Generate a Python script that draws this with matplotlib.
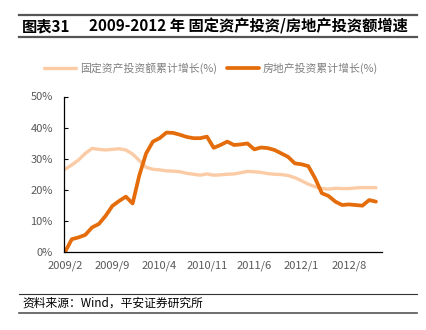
import matplotlib
matplotlib.use("Agg")
import matplotlib.pyplot as plt
from matplotlib.lines import Line2D

plt.rcParams['font.family'] = ['Noto Sans CJK SC', 'DejaVu Sans']

# Monthly data, 2009/2 .. 2012/12
months = []
y, m = 2009, 2
while (y, m) <= (2012, 12):
    months.append(f"{y}/{m}")
    m += 1
    if m > 12:
        m = 1
        y += 1

fixed_asset = [26.6, 28.0, 29.6, 31.7, 33.3, 33.0, 32.8, 33.0, 33.2, 32.8,
               31.5, 29.4, 27.2, 26.6, 26.4, 26.1, 26.0, 25.8, 25.3, 25.0,
               24.7, 25.1, 24.7, 24.8, 25.0, 25.1, 25.5, 25.9, 25.8, 25.6,
               25.2, 25.0, 24.9, 24.6, 23.9, 22.9, 21.8, 21.0, 20.4, 20.2,
               20.5, 20.4, 20.4, 20.6, 20.7, 20.7, 20.7]
real_estate = [0.0, 4.1, 4.7, 5.5, 7.9, 9.0, 11.6, 14.8, 16.4, 17.8,
               15.6, 24.7, 31.7, 35.5, 36.6, 38.4, 38.3, 37.7, 37.0, 36.6,
               36.6, 37.1, 33.5, 34.4, 35.5, 34.4, 34.6, 34.9, 33.0, 33.6,
               33.4, 32.8, 31.7, 30.6, 28.5, 28.2, 27.6, 23.7, 18.9, 18.0,
               16.2, 15.1, 15.3, 15.1, 14.9, 16.7, 16.2]

label_fixed = "固定资产投资额累计增长(%)"
label_re = "房地产投资累计增长(%)"
yticks = [0, 10, 20, 30, 40, 50]

c_light = "#FBCBA5"
c_orange = "#E46C0A"
c_text = "#595959"

fig = plt.figure(figsize=(4.26, 3.30), dpi=100)
W, H = 426, 330

# Title bars
fig.add_artist(Line2D([19/W, 417/W], [1-15/H, 1-15/H], color="#555555", lw=1.6))
fig.add_artist(Line2D([19/W, 417/W], [1-37/H, 1-37/H], color="#555555", lw=1.6))
fig.text(22/W, 1-26.5/H, "图表31", fontsize=11, fontweight="bold", va="center", ha="left")
fig.text(89/W, 1-26.5/H, "2009-2012 年 固定资产投资/房地产投资额增速", fontsize=11,
         fontweight="bold", va="center", ha="left")

# Footer
fig.add_artist(Line2D([19/W, 417/W], [1-294/H, 1-294/H], color="#333333", lw=0.8))
fig.add_artist(Line2D([19/W, 417/W], [1-313/H, 1-313/H], color="#555555", lw=1.2))
fig.text(22/W, 1-303.5/H, "资料来源：Wind，平安证券研究所", fontsize=8.5, style="italic",
         va="center", ha="left")

ax = fig.add_axes([64/W, 1-252/H, (382-64)/W, (252-96.5)/H])
x = list(range(len(months)))
ax.plot(x, fixed_asset, color=c_light, lw=2.4, solid_capstyle="round", label=label_fixed)
ax.plot(x, real_estate, color=c_orange, lw=2.7, solid_capstyle="round", label=label_re)

ax.set_ylim(0, 50)
ax.set_xlim(-0.15, 46.9)
ax.set_yticks(yticks)
ax.set_yticklabels([f"{v}%" for v in yticks])
tick_idx = list(range(0, len(months), 7))
ax.set_xticks(tick_idx)
ax.set_xticklabels([months[i] for i in tick_idx])
ax.tick_params(axis="y", direction="in", length=3, width=0.8, colors="black",
               labelcolor=c_text, labelsize=8, pad=8)
ax.tick_params(axis="x", length=0, labelcolor=c_text, labelsize=8, pad=6)
for s in ["top", "right"]:
    ax.spines[s].set_visible(False)
ax.spines["left"].set_linewidth(0.9)
ax.spines["bottom"].set_linewidth(0.9)

leg = fig.legend(loc="center", bbox_to_anchor=(211/W, 1-68/H), ncol=2, frameon=False,
                 fontsize=7.8, handlelength=3.0, columnspacing=0.9, handletextpad=0.35)
for t in leg.get_texts():
    t.set_color("#7F7F7F")

fig.savefig("out.png", dpi=100)
